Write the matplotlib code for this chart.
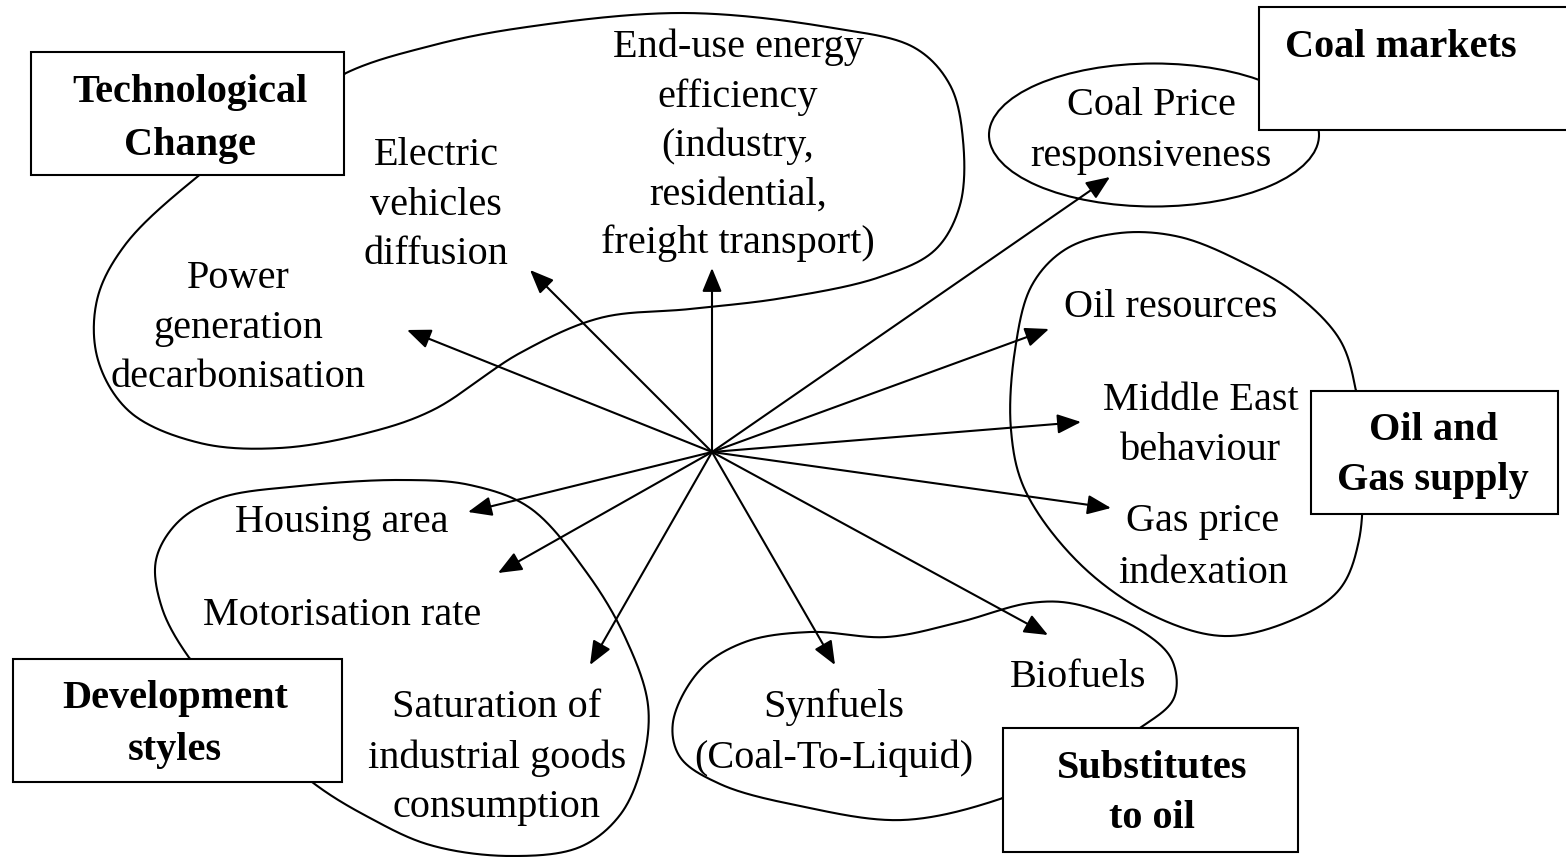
import numpy as np
import matplotlib
matplotlib.use("Agg")
import matplotlib.pyplot as plt
from matplotlib.patches import Rectangle, Ellipse

# ---------------- data ----------------
factor_labels = [
    ["Power", "generation", "decarbonisation"],
    ["Electric", "vehicles", "diffusion"],
    ["End-use energy", "efficiency", "(industry,", "residential,", "freight transport)"],
    ["Coal Price", "responsiveness"],
    ["Oil resources"],
    ["Middle East", "behaviour"],
    ["Gas price", "indexation"],
    ["Biofuels"],
    ["Synfuels", "(Coal-To-Liquid)"],
    ["Saturation of", "industrial goods", "consumption"],
    ["Motorisation rate"],
    ["Housing area"],
]

group_labels = [
    ["Technological", "Change"],
    ["Coal markets"],
    ["Oil and", "Gas supply"],
    ["Development", "styles"],
    ["Substitutes", "to oil"],
]

# ---------------- layout (pixel coordinates, y downwards) ----------------
W, H = 1566, 857
hub = (712, 452)

arrow_tips = [(407, 330), (530, 270), (712, 268), (1110, 177), (1049, 329),
              (1081, 422), (1111, 508), (1048, 635), (835, 665), (590, 665),
              (498, 573), (468, 512)]

factor_pos = [  # (center x, baselines)
    (238, [288, 338, 387]),
    (436, [165, 215, 264]),
    (738, [57, 107, 156, 205, 253]),
    (1151, [115, 166]),
    (1171, [317]),
    (1201, [410, 460]),
    (1203, [531, 583]),
    (1078, [687]),
    (834, [717, 768]),
    (497, [717, 768, 817]),
    (342, [625]),
    (342, [532]),
]

group_boxes = [  # x0, y0, x1, y1
    (31, 52, 344, 175),
    (1259, 7, 1600, 130),
    (1311, 391, 1558, 514),
    (13, 659, 342, 782),
    (1003, 728, 1298, 852),
]
group_pos = [
    (190, [102, 155]),
    (1401, [57]),
    (1433, [440, 490]),
    (175, [708, 760]),
    (1152, [778, 828]),
]

blob_tech = [(344, 74), (430, 46), (520, 28), (683, 13), (833, 28),
             (915, 48), (950, 85), (963, 140), (960, 205), (935, 250),
             (880, 277), (783, 298), (690, 309), (600, 318),
             (520, 353), (433, 410), (367, 433), (280, 448),
             (200, 443), (130, 412), (98, 360), (97, 300), (125, 245),
             (197, 177), (270, 125)]

blob_oil = [(1356, 391), (1340, 340), (1296, 294), (1246, 264),
            (1180, 237), (1120, 233), (1066, 249), (1032, 285),
            (1015, 350), (1011, 430), (1025, 490), (1079, 563),
            (1150, 614), (1223, 636), (1290, 621), (1339, 590),
            (1359, 540), (1362, 455)]

blob_dev = [(190, 659), (162, 608), (156, 560), (178, 522), (220, 498),
            (300, 486), (400, 480), (470, 485), (530, 508), (587, 573),
            (625, 637), (648, 705), (642, 765), (620, 815), (580, 847),
            (510, 856), (430, 845), (370, 818), (312, 782), (240, 715)]

blob_sub = [(1003, 798), (903, 820), (800, 806), (720, 784), (680, 757),
            (673, 722), (700, 670), (745, 642), (810, 632), (887, 637),
            (960, 622), (1030, 603), (1075, 604), (1140, 630), (1172, 660),
            (1174, 698), (1140, 728), (1075, 765)]

coal_ellipse = ((1154, 135), 330, 143)

# ---------------- drawing ----------------
FONT = "Liberation Serif"
FS = 29
LW = 1.5


def closed_spline(pts, n=40, alpha=0.5):
    """Closed centripetal Catmull-Rom curve through the given points."""
    P = np.asarray(pts, float)
    N = len(P)
    segs = []
    for i in range(N):
        p0, p1, p2, p3 = P[(i - 1) % N], P[i], P[(i + 1) % N], P[(i + 2) % N]
        t0 = 0.0
        t1 = t0 + np.linalg.norm(p1 - p0) ** alpha
        t2 = t1 + np.linalg.norm(p2 - p1) ** alpha
        t3 = t2 + np.linalg.norm(p3 - p2) ** alpha
        t = np.linspace(t1, t2, n, endpoint=False)[:, None]
        a1 = (t1 - t) / (t1 - t0) * p0 + (t - t0) / (t1 - t0) * p1
        a2 = (t2 - t) / (t2 - t1) * p1 + (t - t1) / (t2 - t1) * p2
        a3 = (t3 - t) / (t3 - t2) * p2 + (t - t2) / (t3 - t2) * p3
        b1 = (t2 - t) / (t2 - t0) * a1 + (t - t0) / (t2 - t0) * a2
        b2 = (t3 - t) / (t3 - t1) * a2 + (t - t1) / (t3 - t1) * a3
        segs.append((t2 - t) / (t2 - t1) * b1 + (t - t1) / (t2 - t1) * b2)
    out = np.vstack(segs)
    return np.vstack([out, out[:1]])


fig = plt.figure(figsize=(W / 100, H / 100), dpi=100)
ax = fig.add_axes([0, 0, 1, 1])
ax.set_xlim(0, W)
ax.set_ylim(H, 0)
ax.axis("off")

for blob in (blob_tech, blob_oil, blob_dev, blob_sub):
    c = closed_spline(blob)
    ax.plot(c[:, 0], c[:, 1], color="black", lw=LW, zorder=1,
            solid_joinstyle="round")

(cx, cy), ew, eh = coal_ellipse
ax.add_patch(Ellipse((cx, cy), ew, eh, facecolor="none", edgecolor="black",
                     lw=LW, zorder=1))

for tip in arrow_tips:
    ax.annotate("", xy=tip, xytext=hub,
                arrowprops=dict(arrowstyle="-|>,head_length=1.45,head_width=0.6",
                                lw=LW, color="black", shrinkA=0, shrinkB=0),
                zorder=2)

for (x0, y0, x1, y1) in group_boxes:
    ax.add_patch(Rectangle((x0, y0), x1 - x0, y1 - y0, facecolor="white",
                           edgecolor="black", lw=LW, zorder=3))

for lines, (x, ys) in zip(factor_labels, factor_pos):
    for line, y in zip(lines, ys):
        ax.text(x, y, line, ha="center", va="baseline", fontsize=FS,
                family=FONT, color="black", zorder=4)

for lines, (x, ys) in zip(group_labels, group_pos):
    for line, y in zip(lines, ys):
        ax.text(x, y, line, ha="center", va="baseline", fontsize=FS,
                family=FONT, fontweight="bold", color="black", zorder=4)

fig.savefig("out.png", dpi=100, facecolor="white")
